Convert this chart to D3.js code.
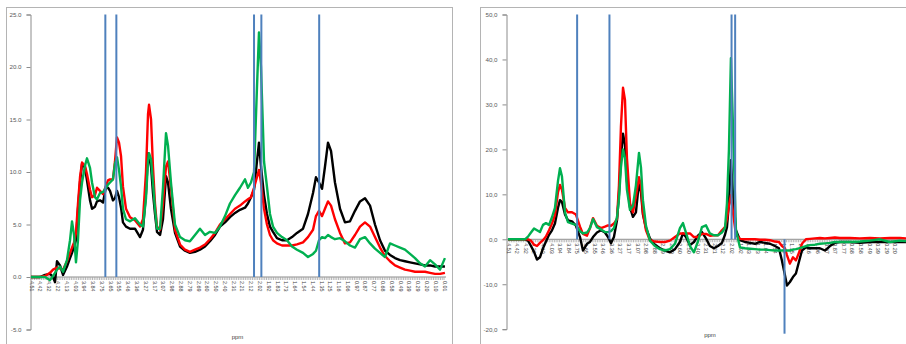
<!DOCTYPE html>
<html>
<head>
<meta charset="utf-8">
<script src="https://cdn.jsdelivr.net/npm/d3@7"></script>
<style>
  body { margin: 0; background: #fff; }
  svg { display: block; }
  text { font-family: "Liberation Sans", Arial, sans-serif; }
</style>
</head>
<body>
<div id="chart"></div>
<script>
// category labels of the ppm axis (same for both panels)
const ppmLabels = ['4.51', '4.42', '4.32', '4.22', '4.13', '4.03', '3.94', '3.84', '3.75', '3.65',
  '3.55', '3.46', '3.36', '3.27', '3.17', '3.07', '2.98', '2.88', '2.79', '2.69', '2.60', '2.50',
  '2.40', '2.31', '2.21', '2.12', '2.02', '1.92', '1.83', '1.73', '1.64', '1.54', '1.44', '1.35',
  '1.25', '1.16', '1.06', '0.97', '0.87', '0.77', '0.68', '0.58', '0.49', '0.39', '0.29', '0.20',
  '0.10', '0.01'];

// left panel
const leftTicks = [-5, 0, 5, 10, 15, 20, 25];
const leftPpm = [4.510, 4.412, 4.357, 4.303, 4.270, 4.248, 4.227, 4.194, 4.161, 4.118, 4.085, 4.063,
  4.041, 4.020, 3.998, 3.976, 3.954, 3.922, 3.900, 3.867, 3.845, 3.813, 3.791, 3.758, 3.725, 3.693,
  3.671, 3.649, 3.617, 3.595, 3.573, 3.551, 3.529, 3.508, 3.475, 3.431, 3.377, 3.322, 3.290, 3.257,
  3.235, 3.224, 3.202, 3.181, 3.159, 3.137, 3.104, 3.072, 3.039, 3.017, 2.985, 2.941, 2.886, 2.832,
  2.778, 2.723, 2.669, 2.614, 2.560, 2.505, 2.451, 2.396, 2.342, 2.287, 2.233, 2.178, 2.146, 2.113,
  2.080, 2.048, 2.026, 2.004, 1.971, 1.939, 1.906, 1.873, 1.830, 1.775, 1.721, 1.666, 1.612, 1.546,
  1.492, 1.437, 1.405, 1.372, 1.339, 1.307, 1.274, 1.241, 1.198, 1.143, 1.089, 1.034, 0.980, 0.925,
  0.871, 0.816, 0.762, 0.707, 0.653, 0.598, 0.544, 0.489, 0.435, 0.380, 0.326, 0.271, 0.217, 0.162,
  0.108, 0.053, 0.000];
const leftBlack = [0, 0, 0.2, 0.3, 0, -0.5, 1.5, 1.1, 0.2, 1.0, 1.8, 2.3,
  2.9, 3.5, 6.5, 9.0, 10.8, 10.4, 9.2, 7.3, 6.5, 6.7, 7.2, 7.3, 7.1, 8.6,
  8.5, 8.2, 7.3, 7.5, 8.2, 7.6, 6.6, 5.2, 4.8, 4.6, 4.6, 3.8, 4.5, 8.0,
  11.8, 11.5, 10.5, 8.0, 6.0, 4.3, 4.0, 5.5, 9.6, 9.0, 6.5, 4.2, 2.9, 2.5,
  2.3, 2.4, 2.6, 2.9, 3.4, 4.0, 4.8, 5.2, 5.7, 6.1, 6.4, 6.6, 7.0, 7.6,
  8.3, 11.0, 12.8, 10.5, 7.8, 6.0, 4.8, 4.3, 3.7, 3.5, 3.5, 3.8, 4.2, 4.6,
  6.0, 8.0, 9.5, 9.0, 8.4, 10.5, 12.8, 12.0, 9.0, 6.5, 5.2, 5.3, 6.3, 7.2,
  7.5, 6.8, 5.0, 3.5, 2.5, 2.1, 1.8, 1.6, 1.5, 1.4, 1.3, 1.2, 1.1, 1.1,
  1.0, 1.0, 1.0];
const leftRed = [0, 0, 0.1, 0.4, 0.7, 0.8, 0.9, 0.8, 0.7, 1.5, 2.3, 2.8,
  3.3, 4.2, 7.0, 9.5, 10.9, 10.6, 9.8, 8.3, 7.6, 7.8, 8.5, 8.2, 7.9, 8.7,
  9.2, 9.3, 9.3, 11.0, 13.3, 12.8, 11.5, 8.6, 6.5, 5.7, 5.4, 4.8, 5.5, 10.0,
  15.5, 16.4, 15.0, 10.5, 7.0, 4.8, 4.5, 7.0, 10.5, 11.0, 8.5, 4.5, 3.1, 2.6,
  2.4, 2.6, 2.8, 3.1, 3.6, 4.2, 5.0, 5.5, 6.0, 6.5, 6.8, 7.2, 7.4, 7.6,
  8.5, 9.5, 10.2, 9.0, 6.5, 5.0, 4.0, 3.5, 3.2, 3.0, 3.0, 3.0, 3.1, 3.3,
  3.8, 4.5, 5.8, 6.3, 5.8, 6.5, 7.2, 6.8, 5.5, 4.2, 3.2, 3.3, 4.0, 4.8,
  5.2, 4.8, 3.8, 2.8, 2.0, 1.5, 1.1, 0.9, 0.7, 0.6, 0.5, 0.5, 0.5, 0.4,
  0.3, 0.3, 0.4];
const leftGreen = [0, 0, 0, -0.3, 0.1, 0.4, 0.7, 1.0, 0.5, 1.6, 3.5, 5.3,
  4.0, 1.4, 3.5, 7.3, 9.0, 10.6, 11.3, 10.4, 9.0, 7.6, 7.4, 8.0, 8.1, 8.5,
  8.8, 9.0, 9.3, 10.8, 11.4, 10.2, 8.6, 6.5, 5.5, 5.3, 5.6, 5.0, 4.8, 7.5,
  11.0, 11.8, 11.2, 9.0, 6.5, 4.6, 4.6, 8.5, 13.7, 12.5, 9.0, 5.0, 3.8, 3.5,
  3.4, 4.0, 4.6, 4.0, 4.3, 4.2, 4.8, 5.8, 7.0, 7.8, 8.5, 9.3, 8.5, 9.0,
  10.0, 18.0, 23.3, 20.0, 11.0, 8.6, 6.0, 4.8, 4.2, 3.8, 3.5, 2.9, 2.6, 2.3,
  1.9, 2.2, 2.5, 3.5, 3.8, 3.7, 4.0, 3.8, 3.6, 3.7, 3.4, 3.0, 2.8, 3.6,
  3.8, 3.2, 2.7, 2.3, 1.9, 3.2, 3.0, 2.8, 2.6, 2.2, 1.8, 1.3, 1.0, 1.6,
  1.2, 0.7, 1.8];
const leftMarkerPpm = [3.70, 3.58, 2.08, 2.00, 1.37];
const leftMarkerValue = [25, 25, 25, 25, 25];

// right panel
const rightTicks = [-20, -10, 0, 10, 20, 30, 40, 50];
const rightPpm = [4.510, 4.432, 4.376, 4.321, 4.287, 4.254, 4.220, 4.187, 4.154, 4.120, 4.087, 4.053,
  4.020, 3.987, 3.953, 3.931, 3.909, 3.875, 3.842, 3.797, 3.753, 3.708, 3.675, 3.630, 3.597, 3.563,
  3.519, 3.474, 3.430, 3.396, 3.363, 3.330, 3.296, 3.274, 3.252, 3.229, 3.207, 3.185, 3.151, 3.118,
  3.085, 3.051, 3.029, 3.007, 2.973, 2.929, 2.873, 2.817, 2.762, 2.706, 2.650, 2.595, 2.561, 2.528,
  2.483, 2.439, 2.394, 2.350, 2.305, 2.261, 2.216, 2.171, 2.127, 2.093, 2.071, 2.049, 2.027, 2.004,
  1.971, 1.926, 1.871, 1.815, 1.759, 1.704, 1.648, 1.592, 1.537, 1.492, 1.459, 1.425, 1.403, 1.370,
  1.336, 1.303, 1.269, 1.236, 1.191, 1.147, 1.091, 1.036, 0.980, 0.924, 0.869, 0.813, 0.702, 0.590,
  0.479, 0.367, 0.256, 0.145, 0.078, 0.010];
const rightBlack = [0, 0, 0, 0, -0.3, -1.5, -2.8, -4.5, -4.0, -2.0, -0.5, 1.0,
  2.0, 3.5, 7.0, 8.7, 8.3, 5.5, 4.2, 4.0, 3.0, 0.5, -2.5, -1.0, -0.6, 0.5,
  1.5, 2.0, 1.5, 0.5, -0.9, 0.5, 4.2, 10.0, 18.0, 23.5, 21.0, 13.0, 7.1, 5.0,
  6.0, 12.7, 10.5, 5.5, 2.5, 0.2, -1.2, -2.0, -2.5, -2.9, -2.2, -0.6, 1.3, 0.5,
  -1.3, -0.6, 0.8, 1.6, 0.2, -1.5, -2.0, -1.5, -0.8, 1.0, 2.7, 8.0, 17.6, 10.0,
  2.0, -0.2, -0.6, -0.8, -1.0, -0.6, -0.8, -1.0, -1.5, -2.0, -4.7, -8.0, -10.3, -9.5,
  -8.4, -7.6, -5.0, -2.5, -1.8, -2.0, -2.0, -2.0, -2.5, -1.5, -0.8, -0.6, -0.6, -0.8,
  -0.6, -0.6, -0.6, -0.6, -0.6, -0.6];
const rightRed = [0, 0, 0, 0, 0, -0.3, -1.2, -1.5, -0.8, -0.2, 0.6, 2.0,
  3.5, 5.4, 10.5, 12.1, 11.0, 7.0, 6.0, 6.0, 5.5, 2.8, 1.2, 0.8, 2.5, 4.7,
  3.0, 2.5, 2.8, 3.1, 3.0, 3.5, 4.5, 12.0, 25.0, 33.7, 31.0, 18.0, 8.0, 6.0,
  9.5, 13.8, 12.0, 6.0, 2.0, -0.2, -0.5, -0.6, -0.6, -0.3, 0.5, 1.3, 1.3, 1.3,
  1.3, 0.5, 0.5, 1.2, 1.2, 0.8, 0.9, 0.9, 2.0, 2.7, 4.5, 7.5, 9.8, 6.0,
  1.0, 0.1, 0, 0, 0, -0.1, -0.1, -0.2, -0.5, -0.6, -1.5, -2.0, -3.5, -5.4,
  -4.0, -4.7, -3.0, -1.0, 0, 0.1, 0.2, 0.3, 0.2, 0.3, 0.4, 0.3, 0.3, 0.2,
  0.3, 0.2, 0.3, 0.3, 0.2, 0.2];
const rightGreen = [0, 0, 0, 0, 0.6, 1.5, 2.4, 2.0, 1.6, 3.2, 3.6, 3.2,
  4.9, 7.0, 13.0, 15.8, 14.0, 6.0, 3.8, 3.5, 3.2, 1.8, 1.3, 1.5, 2.5, 4.5,
  2.7, 2.2, 1.6, 1.6, 1.8, 2.5, 4.9, 9.0, 16.0, 20.0, 18.0, 11.0, 6.5, 7.5,
  12.0, 19.2, 16.0, 8.7, 3.0, -0.3, -1.5, -2.2, -2.5, -2.2, -1.0, 2.5, 3.6, 1.5,
  -1.5, -2.9, -0.5, 2.7, 3.1, 1.3, 0.9, 0.9, 1.5, 2.5, 8.0, 20.0, 40.3, 25.0,
  2.0, -1.8, -2.0, -2.1, -2.2, -2.3, -2.3, -2.4, -2.5, -2.5, -2.5, -2.5, -2.5, -2.5,
  -2.3, -2.2, -2.0, -1.8, -1.5, -1.3, -1.2, -1.0, -0.9, -0.8, -0.6, -0.6, -0.6, -0.5,
  -0.3, 0, -0.6, -0.3, -0.4, -0.4];
const rightMarkerPpm = [3.74, 3.38, 2.02, 1.98, 1.43];
const rightMarkerValue = [50, 50, 50, 50, -21];

const svg = d3.select('#chart').append('svg')
  .attr('width', 906)
  .attr('height', 344);

function drawPanel(p) {
  const g = svg.append('g');

  // chart frame
  g.append('rect')
    .attr('x', p.frameX + 0.5).attr('y', 7.5)
    .attr('width', p.frameW).attr('height', 400)
    .attr('fill', 'none').attr('stroke', '#b4b4b4').attr('stroke-width', 1);

  const x = d3.scaleLinear().domain([4.51, 0.01]).range([p.x0, p.x1]);
  const y = d3.scaleLinear().domain(p.yDomain).range([p.yBottom, 14.5]);

  // y axis
  const yAxis = d3.axisLeft(y).tickValues(p.ticks).tickSize(4)
    .tickFormat(d => d3.format('.1f')(d).replace('.', p.dec).replace('−', '-'));
  const ya = g.append('g').attr('transform', `translate(${p.axisX},0)`).call(yAxis);
  ya.select('.domain').attr('stroke', '#8c8c8c');
  ya.selectAll('.tick line').attr('stroke', '#8c8c8c');
  ya.selectAll('.tick text').attr('font-size', 6.2).attr('fill', '#595959')
    .attr('font-family', '"Liberation Sans", Arial, sans-serif').attr('dx', -2);

  // horizontal category axis at zero
  const step = 4.5 / (ppmLabels.length - 1);
  const y0 = y(0);
  g.append('line')
    .attr('x1', p.axisX).attr('x2', Math.min(p.x1 + 2, 906))
    .attr('y1', y0).attr('y2', y0)
    .attr('stroke', '#8c8c8c').attr('stroke-width', 1);

  const minor = d3.range(0, (ppmLabels.length - 1) * 5 + 1).map(i => 4.51 - i * step / 5);
  g.selectAll('.minor').data(minor).enter().append('line')
    .attr('x1', d => x(d)).attr('x2', d => x(d))
    .attr('y1', y0).attr('y2', y0 + 3)
    .attr('stroke', '#a6a6a6').attr('stroke-width', 0.8);

  // labels that fall past the page edge are left out (the panel is cropped there)
  const labs = ppmLabels.map((d, i) => ({ t: d, v: 4.51 - i * step }))
    .filter(d => x(d.v) + 3 <= 906);
  g.selectAll('.xlab').data(labs).enter().append('text')
    .attr('transform', d => `translate(${x(d.v)},${y0 + 4}) rotate(90)`)
    .attr('dominant-baseline', 'middle')
    .attr('font-size', 5.4)
    .attr('fill', '#404040')
    .text(d => d.t);

  g.append('text')
    .attr('x', (p.x0 + p.x1) / 2).attr('y', p.titleY)
    .attr('text-anchor', 'middle')
    .attr('font-size', 6)
    .attr('fill', '#404040')
    .text('ppm');

  // spectra
  const line = d3.line()
    .curve(d3.curveLinear)
    .x(d => x(d[0]))
    .y(d => y(d[1]));

  const plot = g.append('g');
  p.series.forEach(s => {
    plot.append('path')
      .attr('d', line(p.ppm.map((v, i) => [v, s.values[i]])))
      .attr('fill', 'none')
      .attr('stroke', s.color)
      .attr('stroke-width', 2.4)
      .attr('stroke-linejoin', 'round');
  });

  // marker lines
  plot.selectAll('.marker').data(p.markerPpm).enter().append('line')
    .attr('x1', d => x(d)).attr('x2', d => x(d))
    .attr('y1', y(0)).attr('y2', (d, i) => y(p.markerValue[i]))
    .attr('stroke', '#4f81bd').attr('stroke-width', 2);
}

drawPanel({
  frameX: 6, frameW: 446, axisX: 30.5, x0: 31, x1: 444,
  yDomain: [-5, 25], yBottom: 329.5, ticks: leftTicks, dec: '.', titleY: 339,
  ppm: leftPpm,
  series: [
    { values: leftBlack, color: '#000000' },
    { values: leftRed, color: '#ff0000' },
    { values: leftGreen, color: '#00b050' }
  ],
  markerPpm: leftMarkerPpm, markerValue: leftMarkerValue
});

drawPanel({
  frameX: 480, frameW: 500, axisX: 506.5, x0: 508, x1: 912,
  yDomain: [-20, 50], yBottom: 329.2, ticks: rightTicks, dec: ',', titleY: 337,
  ppm: rightPpm,
  series: [
    { values: rightBlack, color: '#000000' },
    { values: rightRed, color: '#ff0000' },
    { values: rightGreen, color: '#00b050' }
  ],
  markerPpm: rightMarkerPpm, markerValue: rightMarkerValue
});
</script>
</body>
</html>
